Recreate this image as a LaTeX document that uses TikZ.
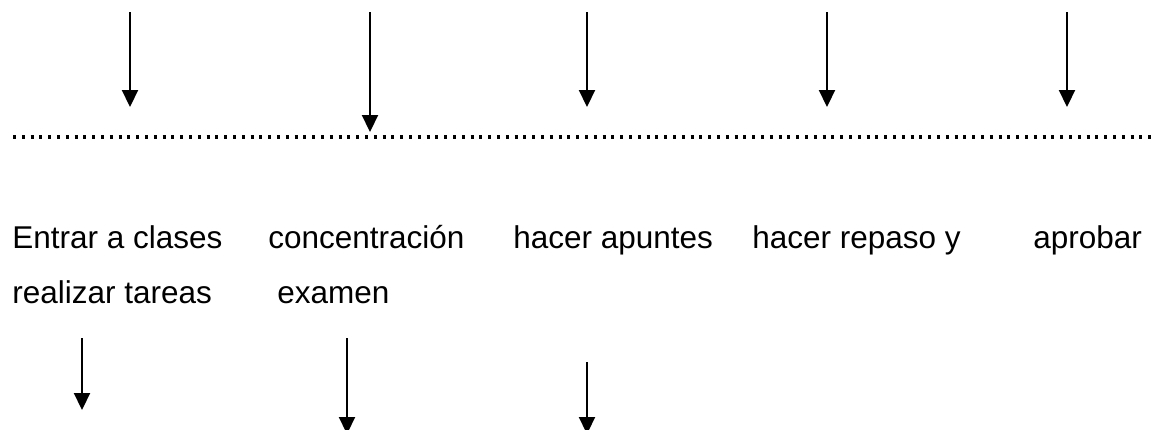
\documentclass[tikz,border=0pt]{standalone}
\usepackage{fontspec}
\setmainfont{Liberation Sans}
\usetikzlibrary{arrows.meta}

\begin{document}
\begin{tikzpicture}[x=0.5pt, y=-0.5pt,
        flecha/.style={line width=1.1pt, -{Triangle[width=8pt, length=8.5pt]}},
        texto/.style={anchor=base west, inner sep=0pt, font=\fontsize{15.75}{19}\selectfont},
        puntos/.style={line width=1.6pt, dash pattern=on 1.5pt off 2.9pt}]
        \useasboundingbox (0, 0) rectangle (1158, 429);

        % flechas de arriba
        \coordinate (a1) at (130, 12);
        \coordinate (b1) at (130, 107);
        \coordinate (a2) at (370, 12);
        \coordinate (b2) at (370, 132);
        \coordinate (a3) at (587, 12);
        \coordinate (b3) at (587, 107);
        \coordinate (a4) at (827, 12);
        \coordinate (b4) at (827, 107);
        \coordinate (a5) at (1067, 12);
        \coordinate (b5) at (1067, 107);
        \draw [flecha] (a1) -- (b1);
        \draw [flecha] (a2) -- (b2);
        \draw [flecha] (a3) -- (b3);
        \draw [flecha] (a4) -- (b4);
        \draw [flecha] (a5) -- (b5);

        % linea de puntos
        \coordinate (izq) at (13, 137);
        \coordinate (der) at (1153, 137);
        \draw [puntos] (izq) -- (der);

        % textos
        \node [texto] (entrar) at (12, 248) {Entrar a clases};
        \node [texto] (concen) at (268, 248) {concentración};
        \node [texto] (apuntes) at (513, 248) {hacer apuntes};
        \node [texto] (repaso) at (752, 248) {hacer repaso y};
        \node [texto] (aprobar) at (1033, 248) {aprobar};
        \node [texto] (tareas) at (12, 303) {realizar tareas};
        \node [texto] (examen) at (277, 303) {examen};

        % flechas de abajo
        \coordinate (c1) at (82, 338);
        \coordinate (d1) at (82, 410);
        \coordinate (c2) at (347, 338);
        \coordinate (d2) at (347, 434);
        \coordinate (c3) at (587, 362);
        \coordinate (d3) at (587, 434);
        \draw [flecha] (c1) -- (d1);
        \draw [flecha] (c2) -- (d2);
        \draw [flecha] (c3) -- (d3);
    \end{tikzpicture}
\end{document}
